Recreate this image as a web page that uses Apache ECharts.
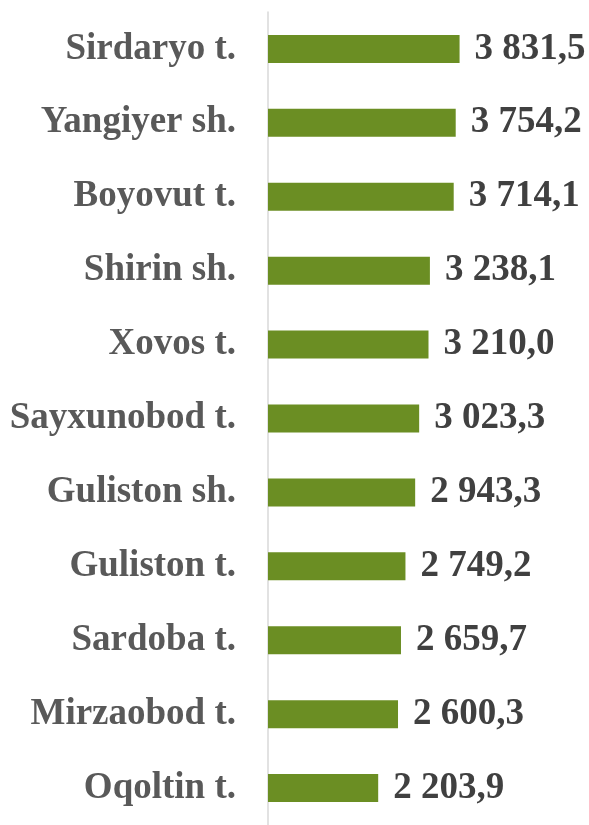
<!DOCTYPE html>
<html>
<head>
<meta charset="utf-8">
<script src="https://cdn.jsdelivr.net/npm/echarts@6/dist/echarts.min.js"></script>
<style>
  html, body { margin: 0; padding: 0; background: #fff; }
  #main { width: 589px; height: 825px; }
</style>
</head>
<body>
<div id="main"></div>
<script>
// hududlar (yuqoridan pastga)
var districts = ["Sirdaryo t.", "Yangiyer sh.", "Boyovut t.", "Shirin sh.", "Xovos t.",
  "Sayxunobod t.", "Guliston sh.", "Guliston t.", "Sardoba t.", "Mirzaobod t.", "Oqoltin t."];
var values = [3831.5, 3754.2, 3714.1, 3238.1, 3210.0, 3023.3, 2943.3, 2749.2, 2659.7, 2600.3, 2203.9];

function fmt(v) {
  var s = v.toFixed(1).split(".");
  var intPart = s[0].replace(/\B(?=(\d{3})+(?!\d))/g, " ");
  return intPart + "," + s[1];
}

var serif = "'Liberation Serif', 'Times New Roman', serif";

var chart = echarts.init(document.getElementById("main"));
chart.setOption({
  animation: false,
  grid: { left: 268, right: 21, top: 12, bottom: -4, containLabel: false },
  xAxis: {
    type: "value",
    min: 0,
    max: 6000,
    show: false
  },
  yAxis: {
    type: "category",
    data: districts,
    inverse: true,
    axisLine: { show: true, lineStyle: { color: "#d9d9d9", width: 1.5 } },
    axisTick: { show: false },
    axisLabel: {
      margin: 32,
      color: "#595959",
      fontFamily: serif,
      fontWeight: "bold",
      fontSize: 37,
      padding: [5, 0, 0, 0]
    }
  },
  series: [{
    type: "bar",
    data: values,
    barWidth: 28,
    itemStyle: { color: "#6b8e23" },
    label: {
      show: true,
      position: "right",
      distance: 15,
      color: "#404040",
      fontFamily: serif,
      fontWeight: "bold",
      fontSize: 37,
      padding: [5, 0, 0, 0],
      formatter: function (p) { return fmt(p.value); }
    }
  }]
});
</script>
</body>
</html>
